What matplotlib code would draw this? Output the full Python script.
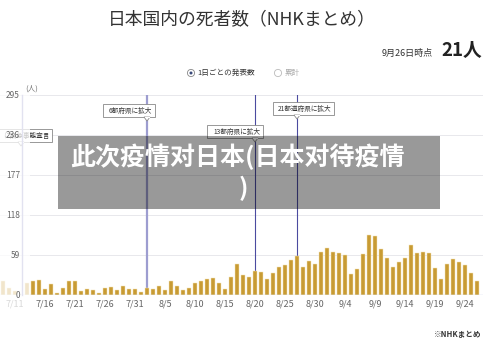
import numpy as np
import pandas as pd
import matplotlib
matplotlib.use('Agg')
import matplotlib.pyplot as plt
from matplotlib.patches import Rectangle, Polygon, Circle
from matplotlib import transforms

plt.rcParams['font.family'] = ['Noto Sans CJK JP', 'DejaVu Sans']

# daily deaths, 7/9 .. 9/26
dates = pd.date_range('2020-07-09', '2020-09-26')
deaths = [20, 11, 6, 0, 18, 20, 22, 9, 16, 3, 11, 20, 20, 6, 9, 8, 3, 11, 12, 8, 14, 9, 9,
          5, 11, 9, 14, 8, 20, 14, 8, 11, 18, 20, 24, 25, 18, 9, 26, 46, 29, 27, 35, 34, 24,
          32, 41, 44, 51, 57, 41, 50, 45, 63,
          70, 63, 62, 59, 31, 39, 61, 88, 87, 68, 55, 41, 49, 54, 74, 62, 63, 62, 40, 23, 46,
          53, 49, 44, 33, 21]
y_ticks = [0, 59, 118, 177, 236, 295]
events = [('8/2', '6都府県に拡大'), ('8/20', '13都府県に拡大'), ('8/27', '21都道府県に拡大')]

labels = [f'{d.month}/{d.day}' for d in dates]
idx = np.arange(len(dates))

fig = plt.figure(figsize=(5, 3.47), dpi=100)
fig.patch.set_facecolor('white')

# main chart
ax = fig.add_axes([0, 52 / 347, 483 / 500, 200 / 347])
ax.bar(idx, deaths, width=0.68, color='#c89b33', edgecolor='#f3e4b8', linewidth=0.35, zorder=3)
ax.set_xlim(-0.5, 80)
ax.set_ylim(0, 295)
ax.set_yticks(y_ticks)
ax.set_yticklabels([])
ax.tick_params(axis='y', length=0)
ax.grid(axis='y', color='#e8e8ec', lw=0.7, zorder=0)
ax.set_xticks(idx[2::5])
ax.set_xticklabels(labels[2::5])
ax.tick_params(axis='x', length=0, pad=3.5, labelsize=6.5, labelcolor='#666666')
for s in ax.spines.values():
    s.set_visible(False)
ax.axhline(0, color='#ccd6eb', lw=1, zorder=4)

line_styles = [('#9d9dd0', 1.6), ('#4b4ba0', 0.8), ('#4b4ba0', 0.8)]
for (day, _), (c, w) in zip(events, line_styles):
    ax.axvline(labels.index(day), color=c, lw=w, zorder=2)

# overlay in pixel coords
ax0 = fig.add_axes([0, 0, 1, 1], facecolor='none')
ax0.set_xlim(0, 500)
ax0.set_ylim(347, 0)
ax0.axis('off')


def to_px(i):
    return ax0.transData.inverted().transform(ax.transData.transform((i, 0)))[0]


def callout(text, x_ptr, x0, y0, w, h=13, z=3):
    ax0.add_patch(Rectangle((x0, y0), w, h, fc='white', ec='#888888', lw=0.6, zorder=z))
    ax0.add_patch(Polygon([(x_ptr - 3, y0 + h), (x_ptr + 3, y0 + h), (x_ptr, y0 + h + 4)],
                          closed=True, fc='white', ec='#888888', lw=0.6, zorder=z))
    ax0.plot([x_ptr - 2.4, x_ptr + 2.4], [y0 + h, y0 + h], color='white', lw=0.8, zorder=z)
    ax0.text(x0 + w - 3, y0 + h / 2, text, ha='right', va='center', fontsize=4.8,
             color='#333333', zorder=z)


# left cut-off callout (under the fade)
callout('に緊急事態宣言', 21, -5, 129, 57, z=0.5)

# faded navigator part on the left
ax0.add_patch(Rectangle((0, 92), 30, 222, fc='white', alpha=0.75, ec='none', zorder=1))
ax0.plot([22, 22], [95, 295], color='#e2e2f0', lw=1, zorder=2)

ytrans = transforms.blended_transform_factory(ax0.transData, ax.transData)
for v in y_ticks:
    ax0.text(20, v, str(v), transform=ytrans, ha='right', va='center', fontsize=6,
             color='#666666', zorder=2)
ax0.text(25, 89, '(人)', ha='left', va='center', fontsize=5.5, color='#777777', zorder=2)

box_pos = [(103, 104, 52), (207, 125, 56), (273, 102, 61)]
for (day, text), (bx, by, bw) in zip(events, box_pos):
    callout(text, to_px(labels.index(day)), bx, by, bw)

# header
ax0.text(242, 20, '日本国内の死者数（NHKまとめ）', ha='center', va='center',
         fontsize=12.8, color='#333333')
ax0.text(433, 53, '9月26日時点', ha='right', va='center', fontsize=6.5, color='#333333')
ax0.text(441, 50, f'{deaths[-1]}人', ha='left', va='center', fontsize=13.5,
         fontweight='bold', color='#222222')

ax0.add_patch(Circle((191, 73), 3.6, fc='white', ec='#888888', lw=0.6))
ax0.add_patch(Circle((191, 73), 1.5, fc='#3a4a7a', ec='none'))
ax0.text(197, 73, '1日ごとの発表数', ha='left', va='center', fontsize=5.5, color='#333333')
ax0.add_patch(Circle((278, 73), 3.6, fc='white', ec='#bbbbbb', lw=0.6))
ax0.text(285, 73, '累計', ha='left', va='center', fontsize=5.5, color='#aaaaaa')

ax0.text(481, 334, '※NHKまとめ', ha='right', va='center', fontsize=5.5,
         fontweight='bold', color='#333333')

# grey banner
ax0.add_patch(Rectangle((58, 136), 382, 73, fc='black', alpha=0.4, ec='none', zorder=5))
ax0.text(237, 157, '此次疫情对日本(日本对待疫情', ha='center', va='center', fontsize=18,
         fontweight='bold', color='white', family=['Noto Sans CJK SC', 'DejaVu Sans'], zorder=6)
ax0.text(243, 188, ')', ha='center', va='center', fontsize=18,
         fontweight='bold', color='white', family=['Noto Sans CJK SC', 'DejaVu Sans'], zorder=6)

fig.savefig('out.png', dpi=100)
